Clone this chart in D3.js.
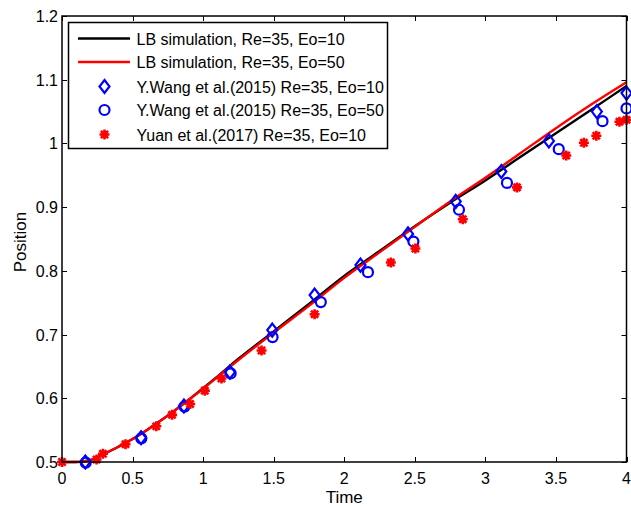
<!DOCTYPE html>
<html>
<head>
<meta charset="utf-8">
<script src="https://cdn.jsdelivr.net/npm/d3@7"></script>
<style>
  body { margin: 0; background: #fff; }
  text { font-family: "Liberation Sans", Arial, sans-serif; fill: #000; }
</style>
</head>
<body>
<div id="vis"></div>
<script>
// Data
const lineTime = [0, 0.1, 0.15, 0.2, 0.3, 0.4, 0.5, 0.6, 0.7, 0.8, 0.9, 1.0, 1.1, 1.25, 1.5, 1.75, 2.0, 2.25, 2.5, 2.75, 3.0, 3.25, 3.5, 3.75, 4.0];
const lbEo10 = [0.5, 0.5, 0.501, 0.503, 0.513, 0.524, 0.536, 0.55, 0.565, 0.581, 0.598, 0.616, 0.634, 0.662, 0.705, 0.748, 0.792, 0.831, 0.87, 0.907, 0.942, 0.979, 1.016, 1.053, 1.09];
const lbEo50 = [0.5, 0.5, 0.501, 0.503, 0.513, 0.524, 0.536, 0.55, 0.565, 0.581, 0.598, 0.615, 0.633, 0.66, 0.703, 0.745, 0.789, 0.829, 0.869, 0.909, 0.946, 0.985, 1.024, 1.061, 1.096];

const wangEo10T = [0.165, 0.56, 0.864, 1.19, 1.49, 1.79, 2.115, 2.452, 2.79, 3.113, 3.45, 3.79, 4.0];
const wangEo10Y = [0.5, 0.538, 0.588, 0.641, 0.707, 0.762, 0.809, 0.858, 0.909, 0.956, 1.004, 1.05, 1.079];

const wangEo50T = [0.168, 0.562, 0.868, 1.195, 1.492, 1.834, 2.168, 2.49, 2.813, 3.153, 3.52, 3.83, 4.0];
const wangEo50Y = [0.499, 0.537, 0.587, 0.639, 0.696, 0.751, 0.798, 0.846, 0.896, 0.938, 0.991, 1.035, 1.055];

const yuanT = [0, 0.245, 0.29, 0.45, 0.668, 0.78, 0.908, 1.012, 1.13, 1.414, 1.79, 2.33, 2.504, 2.84, 3.224, 3.573, 3.698, 3.786, 3.95, 4.0];
const yuanY = [0.5, 0.504, 0.513, 0.528, 0.556, 0.574, 0.591, 0.612, 0.631, 0.675, 0.732, 0.813, 0.835, 0.881, 0.931, 0.981, 1.001, 1.012, 1.034, 1.037];

const xTicks = [0, 0.5, 1, 1.5, 2, 2.5, 3, 3.5, 4];
const yTicks = [0.5, 0.6, 0.7, 0.8, 0.9, 1.0, 1.1, 1.2];

const legendLabels = [
  'LB simulation, Re=35, Eo=10',
  'LB simulation, Re=35, Eo=50',
  'Y.Wang et al.(2015) Re=35, Eo=10',
  'Y.Wang et al.(2015) Re=35, Eo=50',
  'Yuan et al.(2017) Re=35, Eo=10',
];

const WIDTH = 631;
const HEIGHT = 506;
const MARGIN = { top: 16, right: 4, bottom: 44, left: 62 };
const FONT = 16;

const svg = d3.select('#vis').append('svg')
  .attr('width', WIDTH)
  .attr('height', HEIGHT);

const x = d3.scaleLinear().domain([0, 4]).range([MARGIN.left, WIDTH - MARGIN.right - 0.5]);
const y = d3.scaleLinear().domain([0.5, 1.2]).range([HEIGHT - MARGIN.bottom, MARGIN.top]);

const blue = '#0000ff';
const red = '#ff0000';

// Ticks (inside, mirrored on top/right)
const TICK = 5;
const axisG = svg.append('g').attr('stroke', '#000').attr('stroke-width', 1);
xTicks.forEach((t) => {
  const xp = Math.round(x(t)) + 0.5;
  axisG.append('line').attr('x1', xp).attr('x2', xp)
    .attr('y1', y(0.5)).attr('y2', y(0.5) - TICK);
  axisG.append('line').attr('x1', xp).attr('x2', xp)
    .attr('y1', y(1.2)).attr('y2', y(1.2) + TICK);
});
yTicks.forEach((v) => {
  const yp = Math.round(y(v)) + 0.5;
  axisG.append('line').attr('x1', x(0)).attr('x2', x(0) + TICK)
    .attr('y1', yp).attr('y2', yp);
  axisG.append('line').attr('x1', x(4)).attr('x2', x(4) - TICK)
    .attr('y1', yp).attr('y2', yp);
});

// Tick labels
svg.append('g').selectAll('text').data(xTicks).join('text')
  .attr('x', (d) => x(d))
  .attr('y', y(0.5) + 22)
  .attr('text-anchor', 'middle')
  .attr('font-size', FONT)
  .text((d) => d3.format('~g')(d));

svg.append('g').selectAll('text').data(yTicks).join('text')
  .attr('x', x(0) - 4)
  .attr('y', (d) => y(d) + 6)
  .attr('text-anchor', 'end')
  .attr('font-size', FONT)
  .text((d) => d3.format('~g')(d));

svg.append('text')
  .attr('x', (x(0) + x(4)) / 2)
  .attr('y', 503)
  .attr('text-anchor', 'middle')
  .attr('font-size', 17)
  .text('Time');

svg.append('text')
  .attr('transform', `translate(26,242) rotate(-90)`)
  .attr('text-anchor', 'middle')
  .attr('font-size', 17)
  .text('Position');

// Lines
const line = d3.line().x((d) => x(d[0])).y((d) => y(d[1])).curve(d3.curveMonotoneX);
svg.append('path')
  .datum(lineTime.map((t, i) => [t, lbEo10[i]]))
  .attr('d', line)
  .attr('fill', 'none')
  .attr('stroke', '#000')
  .attr('stroke-width', 2.4);
svg.append('path')
  .datum(lineTime.map((t, i) => [t, lbEo50[i]]))
  .attr('d', line)
  .attr('fill', 'none')
  .attr('stroke', red)
  .attr('stroke-width', 2.4);

// Marker helpers
function diamond(g, cx, cy) {
  g.append('path')
    .attr('d', `M${cx},${cy - 6.5}L${cx + 5},${cy}L${cx},${cy + 6.5}L${cx - 5},${cy}Z`)
    .attr('fill', 'none')
    .attr('stroke', blue)
    .attr('stroke-width', 2.2);
}
function circle(g, cx, cy) {
  g.append('circle')
    .attr('cx', cx).attr('cy', cy).attr('r', 5)
    .attr('fill', 'none')
    .attr('stroke', blue)
    .attr('stroke-width', 2.2);
}
function star(g, cx, cy) {
  const r = 5;
  const d = r * 0.72;
  g.append('path')
    .attr('d', `M${cx - r},${cy}L${cx + r},${cy}M${cx},${cy - r}L${cx},${cy + r}` +
      `M${cx - d},${cy - d}L${cx + d},${cy + d}M${cx - d},${cy + d}L${cx + d},${cy - d}`)
    .attr('stroke', red)
    .attr('stroke-width', 2.6)
    .attr('fill', 'none');
}

const marks = svg.append('g');
wangEo10T.forEach((t, i) => diamond(marks, x(t), y(wangEo10Y[i])));
wangEo50T.forEach((t, i) => circle(marks, x(t), y(wangEo50Y[i])));
yuanT.forEach((t, i) => star(marks, x(t), y(yuanY[i])));

// Axes box
svg.append('rect')
  .attr('x', x(0)).attr('y', y(1.2))
  .attr('width', x(4) - x(0)).attr('height', y(0.5) - y(1.2))
  .attr('fill', 'none')
  .attr('stroke', '#000')
  .attr('stroke-width', 1.5);

// Legend
const lg = svg.append('g');
lg.append('rect')
  .attr('x', 68.5).attr('y', 22.5)
  .attr('width', 319).attr('height', 126)
  .attr('fill', '#fff')
  .attr('stroke', '#000')
  .attr('stroke-width', 1.5);
const rowY = [38.5, 62, 86.5, 110, 134.5];
lg.append('line').attr('x1', 78).attr('x2', 130).attr('y1', rowY[0]).attr('y2', rowY[0])
  .attr('stroke', '#000').attr('stroke-width', 2.4);
lg.append('line').attr('x1', 78).attr('x2', 130).attr('y1', rowY[1]).attr('y2', rowY[1])
  .attr('stroke', red).attr('stroke-width', 2.4);
diamond(lg, 104.5, rowY[2]);
circle(lg, 104.5, rowY[3]);
star(lg, 104.5, rowY[4]);
legendLabels.forEach((lab, i) => {
  lg.append('text')
    .attr('x', 136.5)
    .attr('y', rowY[i] + 6)
    .attr('font-size', FONT)
    .text(lab);
});
</script>
</body>
</html>
